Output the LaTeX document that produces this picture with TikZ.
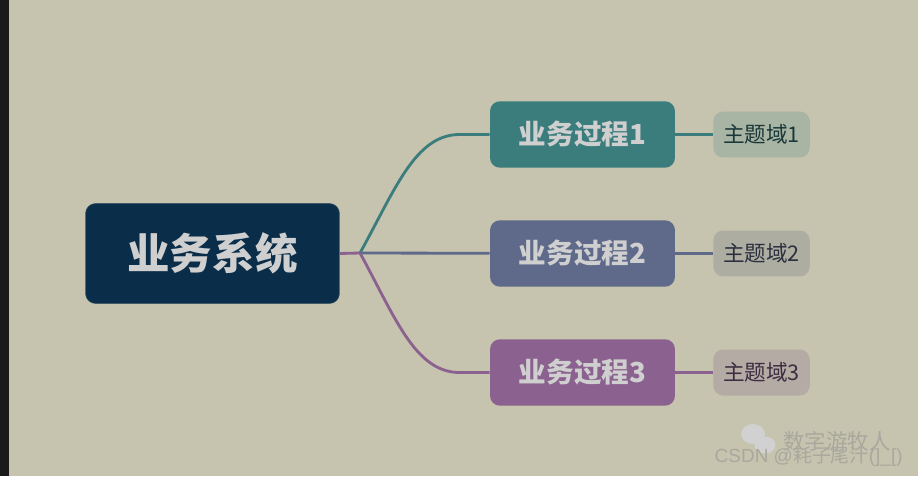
\documentclass[tikz,border=0pt]{standalone}
\usepackage{fontspec}
\usepackage{xcolor}
\usetikzlibrary{calc,positioning}
\setmainfont{Liberation Sans}
\newfontfamily\cjk{Noto Sans CJK SC}
\definecolor{sfondo}{HTML}{C6C3AE}
\definecolor{bordo}{HTML}{1A1A1A}
\definecolor{radice}{HTML}{0A2E4A}
\definecolor{testo}{HTML}{CFCFCF}
\definecolor{ramoa}{HTML}{3A7D7C}
\definecolor{ramob}{HTML}{5F6A8A}
\definecolor{ramoc}{HTML}{8B628F}
\definecolor{foglaa}{HTML}{A8B4A4}
\definecolor{fogliab}{HTML}{ADADA2}
\definecolor{fogliac}{HTML}{B5ABA5}
\definecolor{marchio}{HTML}{A9A89E}
\tikzset{
  radicebox/.style={fill=radice,draw=radice!70!sfondo,line width=0.3pt,rounded corners=0.2cm,minimum width=5.08cm,minimum height=2.0cm,text=testo,font=\cjk\bfseries\fontsize{24.2}{26}\selectfont},
  processo/.style={rounded corners=0.2cm,minimum width=3.7cm,minimum height=1.33cm,text=testo,font=\cjk\bfseries\fontsize{15.7}{18}\selectfont},
  dominio/.style={rounded corners=0.2cm,minimum width=1.93cm,minimum height=0.92cm,inner sep=0pt,font=\cjk\fontsize{12.3}{14}\selectfont},
  ramo/.style={line width=1.6pt},
  filigrana/.style={text=marchio,inner sep=0pt}
}
\begin{document}
\begin{tikzpicture}[x=0.02cm,y=-0.02cm]
\useasboundingbox (0,0) rectangle (918,476);
\fill[sfondo] (0,0) rectangle (918,476);
\fill[bordo] (0,0) rectangle (9,476);
% Nodo centrale
\node[radicebox] (main) at (212.5,253.5) {业务系统};
\coordinate (fork) at (360,253);
% Tre processi con il loro dominio
\foreach \yi/\col/\fog/\lab in {134.5/ramoa/foglaa/1, 253.5/ramob/fogliab/2, 372.5/ramoc/fogliac/3}{
  \node[processo,fill=\col] (proc\lab) at (582.5,\yi) {业务过程\lab};
  \node[dominio,fill=\fog,text=\col!45!black] (dom\lab) at (761.5,\yi) {主题域\lab};
  \draw[ramo,\col] (proc\lab) -- (dom\lab);
}
% Rami dal nodo centrale
\draw[ramo,ramob] (fork) -- (proc2);
\draw[ramo,ramoa] (fork) .. controls (395,190) and (415,134.5) .. ($(proc1.west)+(-30,0)$) -- (proc1.west);
\draw[ramo,ramoc] (fork) .. controls (395,317) and (415,372.5) .. ($(proc3.west)+(-30,0)$) -- (proc3.west);
\draw[ramo,ramoc] (main.east) -- (fork);
% Filigrana
\fill[white!82!black] (753,434) ellipse (12 and 10);
\fill[white!82!black] (765,445) ellipse (10.5 and 8.5);
\node[filigrana,font=\cjk\fontsize{12.2}{14}\selectfont] (marca) at (837,441) {数字游牧人};
\node[filigrana,font=\fontsize{10.8}{13}\selectfont,anchor=east] (csdn) at (903,456) {CSDN @{\cjk 耗子尾汁}(]\_[)};
\end{tikzpicture}
\end{document}
